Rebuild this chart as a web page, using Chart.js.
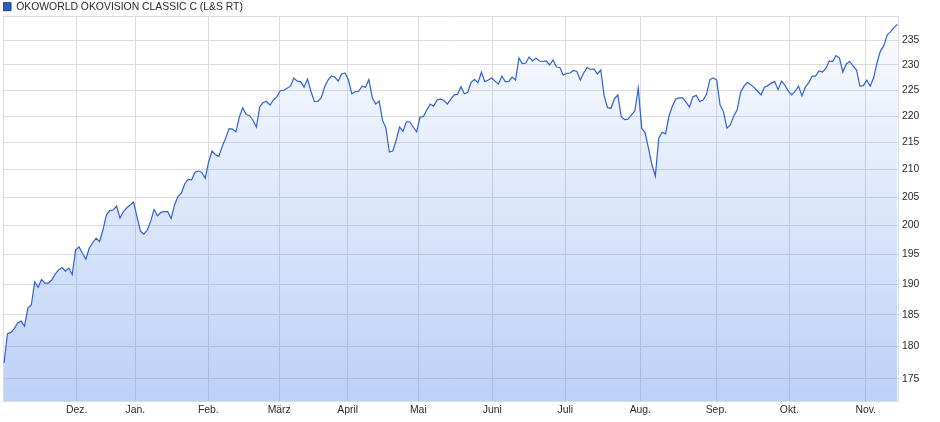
<!DOCTYPE html>
<html>
<head>
<meta charset="utf-8">
<title>ÖKOWORLD ÖKOVISION CLASSIC C</title>
<style>
  html, body { margin: 0; padding: 0; background: #fff; }
  #wrap { width: 940px; height: 422px; }
</style>
<script src="https://cdn.jsdelivr.net/npm/chart.js@4.4.1/dist/chart.umd.min.js"></script>
</head>
<body>
<div id="wrap"><canvas id="chart" width="940" height="422"></canvas></div>
<script>
const seriesName = 'ÖKOWORLD ÖKOVISION CLASSIC C (L&S RT)';

// Tagesschlusskurse (ein Wert pro Handelstag)
const prices = [
  177.4, 182.0, 182.2, 182.8, 183.7, 184.0, 183.2, 186.1, 186.6, 190.4,
  189.5, 190.8, 190.2, 190.2, 190.7, 191.7, 192.4, 192.8, 192.2, 192.7,
  191.6, 195.8, 196.3, 195.2, 194.2, 196.1, 197.0, 197.8, 197.2, 199.2,
  201.8, 202.6, 202.7, 203.4, 201.3, 202.4, 203.1, 203.6, 204.1, 201.5,
  199.0, 198.5, 199.2, 200.7, 202.8, 201.7, 202.3, 202.4, 202.4, 201.2,
  203.6, 205.1, 205.7, 207.4, 208.2, 208.1, 209.5, 209.7, 209.5, 208.4,
  211.4, 213.4, 212.7, 212.4, 214.3, 215.8, 217.6, 217.5, 217.0, 219.8,
  221.6, 220.3, 220.1, 219.2, 217.9, 221.8, 222.6, 222.8, 222.1, 223.1,
  223.7, 224.9, 225.0, 225.4, 225.8, 227.4, 226.8, 226.7, 225.6, 227.2,
  224.8, 222.8, 222.8, 223.5, 225.6, 227.0, 227.8, 227.6, 226.8, 228.2,
  228.4, 227.0, 224.3, 224.7, 224.8, 225.8, 225.6, 227.1, 223.5, 222.3,
  222.9, 219.2, 217.7, 213.2, 213.4, 215.4, 217.9, 217.1, 218.9, 218.9,
  217.9, 217.0, 219.8, 219.9, 221.2, 222.3, 221.9, 223.1, 223.3, 223.0,
  222.3, 223.2, 224.1, 224.2, 225.7, 224.3, 224.6, 226.6, 227.1, 226.5,
  228.6, 226.7, 227.0, 227.4, 226.8, 226.2, 227.8, 226.7, 226.7, 227.6,
  227.0, 231.4, 230.3, 230.4, 231.6, 230.8, 231.4, 230.8, 230.7, 230.8,
  230.0, 231.0, 229.6, 229.5, 228.0, 228.3, 228.4, 228.9, 228.7, 227.0,
  228.4, 229.5, 229.1, 229.2, 228.2, 229.0, 223.9, 221.6, 221.5, 223.3,
  224.1, 219.9, 219.3, 219.4, 220.2, 221.0, 225.4, 217.7, 216.8, 213.9,
  210.9, 208.8, 215.8, 216.9, 216.6, 220.0, 221.9, 223.3, 223.5, 223.5,
  222.7, 221.7, 223.7, 224.0, 222.8, 223.1, 224.2, 227.1, 227.4, 227.0,
  222.1, 220.8, 217.7, 218.3, 220.0, 221.2, 224.6, 225.8, 226.5, 226.1,
  225.5, 224.8, 224.1, 225.6, 225.9, 226.4, 226.7, 225.1, 226.8, 226.0,
  224.8, 224.1, 224.8, 225.8, 223.9, 225.6, 226.5, 227.8, 227.8, 228.8,
  228.6, 229.3, 230.8, 230.7, 231.9, 231.4, 228.6, 230.2, 230.7, 229.8,
  229.0, 225.8, 225.9, 227.0, 225.8, 227.4, 230.4, 232.8, 233.9, 236.1,
  236.8, 237.6, 238.3
];

// Monatsanfaenge (Position in Handelstagen) und Beschriftung
const monthLabels = ['Dez.', 'Jan.', 'Feb.', 'März', 'April', 'Mai', 'Juni', 'Juli', 'Aug.', 'Sep.', 'Okt.', 'Nov.'];
const monthPos = [21.3, 38.5, 59.9, 80.7, 100.8, 121.5, 143.2, 164.6, 186.6, 208.9, 230.3, 252.7];

const yTicks = [175, 180, 185, 190, 195, 200, 205, 210, 215, 220, 225, 230, 235];

const gridColor = '#dcdcdc';
const textColor = '#2a2a2a';

// obere und linke Rahmenlinie des Plotbereichs
const framePlugin = {
  id: 'frame',
  beforeDatasetsDraw(chart) {
    const { ctx, chartArea: a } = chart;
    ctx.save();
    ctx.strokeStyle = gridColor;
    ctx.lineWidth = 1;
    ctx.beginPath();
    ctx.moveTo(a.left + 0.5, a.bottom);
    ctx.lineTo(a.left + 0.5, a.top + 0.5);
    ctx.lineTo(a.right, a.top + 0.5);
    ctx.stroke();
    ctx.restore();
  }
};

Chart.defaults.font.family = "'Liberation Sans', Arial, sans-serif";
Chart.defaults.font.size = 10.4;

const ctx = document.getElementById('chart').getContext('2d');
new Chart(ctx, {
  type: 'line',
  data: {
    datasets: [{
      label: seriesName,
      data: prices.map((v, i) => ({ x: i, y: v })),
      borderColor: '#2e63c9',
      borderWidth: 1.2,
      pointRadius: 0,
      tension: 0,
      fill: 'start',
      backgroundColor: (c) => {
        const a = c.chart.chartArea;
        if (!a) return 'rgba(60,120,230,0.15)';
        const g = c.chart.ctx.createLinearGradient(0, a.top, 0, a.bottom);
        g.addColorStop(0, 'rgba(60,120,230,0.02)');
        g.addColorStop(1, 'rgba(60,120,230,0.34)');
        return g;
      }
    }]
  },
  options: {
    responsive: false,
    animation: false,
    devicePixelRatio: 1,
    layout: { padding: { left: 3, top: 1.5, right: 0, bottom: 0 } },
    plugins: {
      tooltip: { enabled: false },
      legend: {
        display: true,
        position: 'top',
        align: 'start',
        maxHeight: 14.5,
        labels: {
          boxWidth: 8,
          boxHeight: 8,
          padding: 0,
          color: textColor,
          generateLabels: (chart) =>
            Chart.defaults.plugins.legend.labels.generateLabels(chart).map(l =>
              Object.assign(l, { fillStyle: '#2a5fc1', strokeStyle: '#1b3f7f', lineWidth: 1 }))
        }
      }
    },
    scales: {
      x: {
        type: 'linear',
        min: -0.3,
        max: 262.17,
        afterBuildTicks: (s) => { s.ticks = monthPos.map(v => ({ value: v })); },
        afterFit: (s) => { s.height = 21; },
        ticks: {
          autoSkip: false,
          maxRotation: 0,
          padding: 3,
          color: textColor,
          callback: (v, i) => monthLabels[i]
        },
        grid: { color: gridColor, drawTicks: false },
        border: { color: gridColor }
      },
      y: {
        type: 'logarithmic',
        position: 'right',
        min: 171.63,
        max: 240.03,
        afterBuildTicks: (s) => { s.ticks = yTicks.map(v => ({ value: v })); },
        afterFit: (s) => { s.width = 42; },
        ticks: {
          padding: 4,
          color: textColor,
          callback: (v) => String(v)
        },
        grid: { color: gridColor, drawTicks: false },
        border: { color: gridColor }
      }
    }
  },
  plugins: [framePlugin]
});
</script>
</body>
</html>
